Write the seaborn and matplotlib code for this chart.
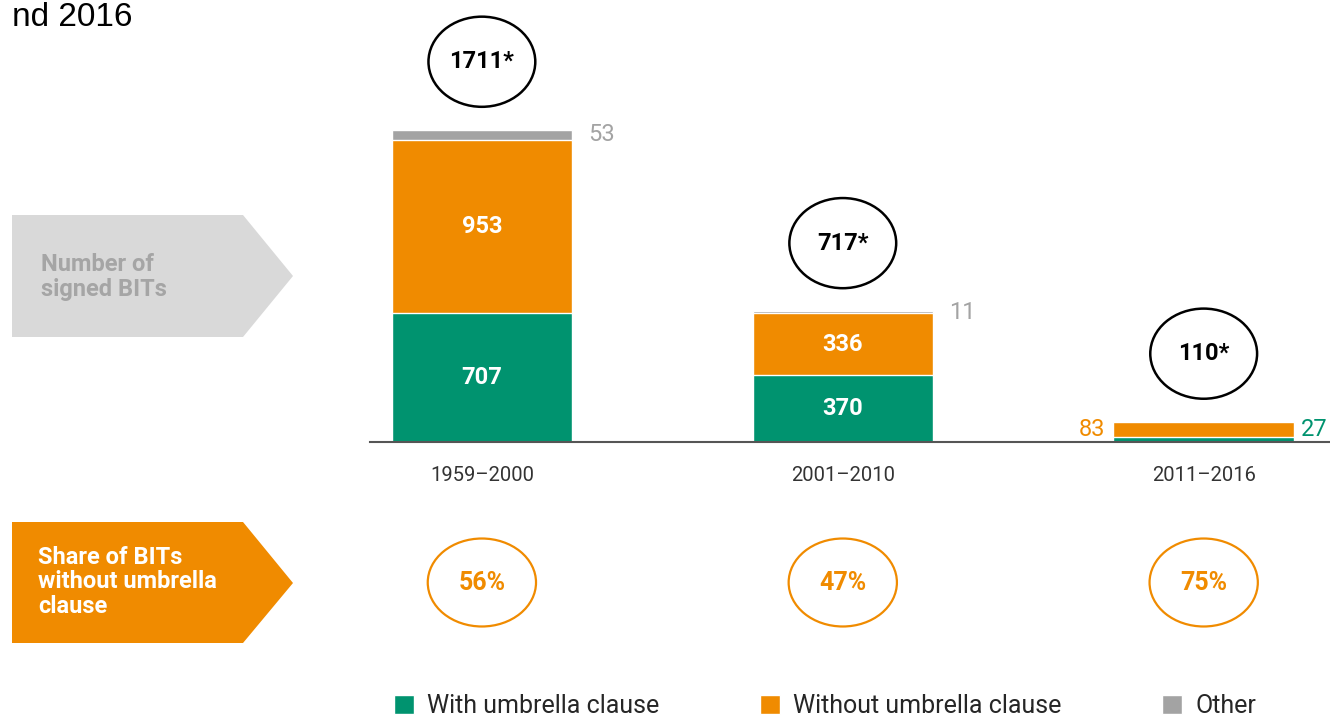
import numpy as np
import pandas as pd
import matplotlib
matplotlib.use('Agg')
import matplotlib.pyplot as plt
import seaborn as sns
from matplotlib.patches import Ellipse, Polygon, Patch

# data
periods = ['1959–2000', '2001–2010', '2011–2016']
with_clause = [707, 370, 27]
without_clause = [953, 336, 83]
other = [53, 11, 0]
total_labels = ['1711*', '717*', '110*']
share_without = ['56%', '47%', '75%']

teal = '#00936f'
orange = '#f08b00'
grey = '#a3a3a3'

sns.set_theme(style='white')
plt.rcParams['font.family'] = ['Roboto', 'DejaVu Sans']

df = pd.DataFrame({'period': periods, 'with': with_clause,
                   'without': without_clause, 'other': other})
df['top_without'] = df['with'] + df['without']
df['top_other'] = df['top_without'] + df['other']

W, H = 1330, 716
fig = plt.figure(figsize=(W / 100, H / 100), dpi=100)
ax = fig.add_axes([370 / W, 274 / H, 960 / W, 442 / H])

# stacked bars: draw the cumulative heights from the tallest down
bar_kw = dict(width=0.5, saturation=1, edgecolor='white', linewidth=1, ax=ax)
sns.barplot(data=df, x='period', y='top_other', color=grey, **bar_kw)
sns.barplot(data=df, x='period', y='top_without', color=orange, **bar_kw)
sns.barplot(data=df, x='period', y='with', color=teal, **bar_kw)

ax.set_xlim(-0.31, 2.35)
ax.set_ylim(0, 2427)
ax.set_xlabel('')
ax.set_ylabel('')
ax.set_yticks([])
sns.despine(ax=ax, left=True)
ax.spines['bottom'].set_color('#555555')
ax.spines['bottom'].set_linewidth(1.5)
ax.tick_params(axis='x', length=0, pad=17, labelsize=14.5, labelcolor='#333333')

half = 0.25
for i, row in df.iterrows():
    # with umbrella clause
    if row['with'] > 200:
        ax.text(i, row['with'] / 2, str(row['with']), ha='center', va='center',
                color='white', fontsize=17, fontweight='bold')
    else:
        ax.annotate(str(row['with']), xy=(i + half, row['top_without'] - row['without'] / 2),
                    xytext=(7, 0), textcoords='offset pixels', ha='left', va='center',
                    color=teal, fontsize=17)
    # without umbrella clause
    if row['without'] > 200:
        ax.text(i, row['with'] + row['without'] / 2, str(row['without']), ha='center',
                va='center', color='white', fontsize=17, fontweight='bold')
    else:
        ax.annotate(str(row['without']), xy=(i - half, row['top_without'] - row['without'] / 2),
                    xytext=(-8, 0), textcoords='offset pixels', ha='right', va='center',
                    color=orange, fontsize=17)
    # other
    if row['other'] > 0:
        ax.annotate(str(row['other']), xy=(i + half, row['top_without'] + row['other'] / 2),
                    xytext=(16, 0), textcoords='offset pixels', ha='left', va='center',
                    color=grey, fontsize=17)
    # total in a circle above the bar
    cy = row['top_other'] + 375
    ax.add_patch(Ellipse((i, cy), 0.296, 495, fill=False, edgecolor='black',
                         linewidth=1.8, clip_on=False))
    ax.text(i, cy, total_labels[i], ha='center', va='center', color='black',
            fontsize=17, fontweight='bold')

# share row
ax2 = fig.add_axes([370 / W, 73 / H, 960 / W, 121 / H])
ax2.set_xlim(ax.get_xlim())
ax2.set_ylim(0, 1)
ax2.axis('off')
for i, s in enumerate(share_without):
    ax2.add_patch(Ellipse((i, 0.5), 0.3, 0.727, fill=False, edgecolor=orange,
                          linewidth=1.6, clip_on=False))
    ax2.text(i, 0.5, s, ha='center', va='center', color=orange,
             fontsize=18, fontweight='bold')


def fp(x, y):
    return (x / W, 1 - y / H)


fig.add_artist(Polygon([fp(12, 215), fp(243, 215), fp(293, 276), fp(243, 337), fp(12, 337)],
                       closed=True, facecolor='#d9d9d9', edgecolor='none',
                       transform=fig.transFigure))
fig.add_artist(Polygon([fp(12, 522), fp(243, 522), fp(293, 583), fp(243, 643), fp(12, 643)],
                       closed=True, facecolor=orange, edgecolor='none',
                       transform=fig.transFigure))
fig.text(*fp(41, 277), 'Number of\nsigned BITs', ha='left', va='center',
         color='#a5a5a5', fontsize=17, fontweight='bold', linespacing=1.1)
fig.text(*fp(38, 582), 'Share of BITs\nwithout umbrella\nclause', ha='left', va='center',
         color='white', fontsize=17, fontweight='bold', linespacing=1.1)

fig.text(*fp(133, 18), 'nd 2016', ha='right', va='center', fontsize=24,
         family='Liberation Sans', color='black')

handles = [Patch(facecolor=teal, label='With umbrella clause'),
           Patch(facecolor=orange, label='Without umbrella clause'),
           Patch(facecolor=grey, label='Other')]
fig.legend(handles=handles, loc='center', bbox_to_anchor=fp(825, 706), ncol=3,
           frameon=False, handlelength=0.8, handleheight=0.8, columnspacing=4.0,
           handletextpad=0.55, fontsize=18)

fig.savefig('out.png', dpi=100)
